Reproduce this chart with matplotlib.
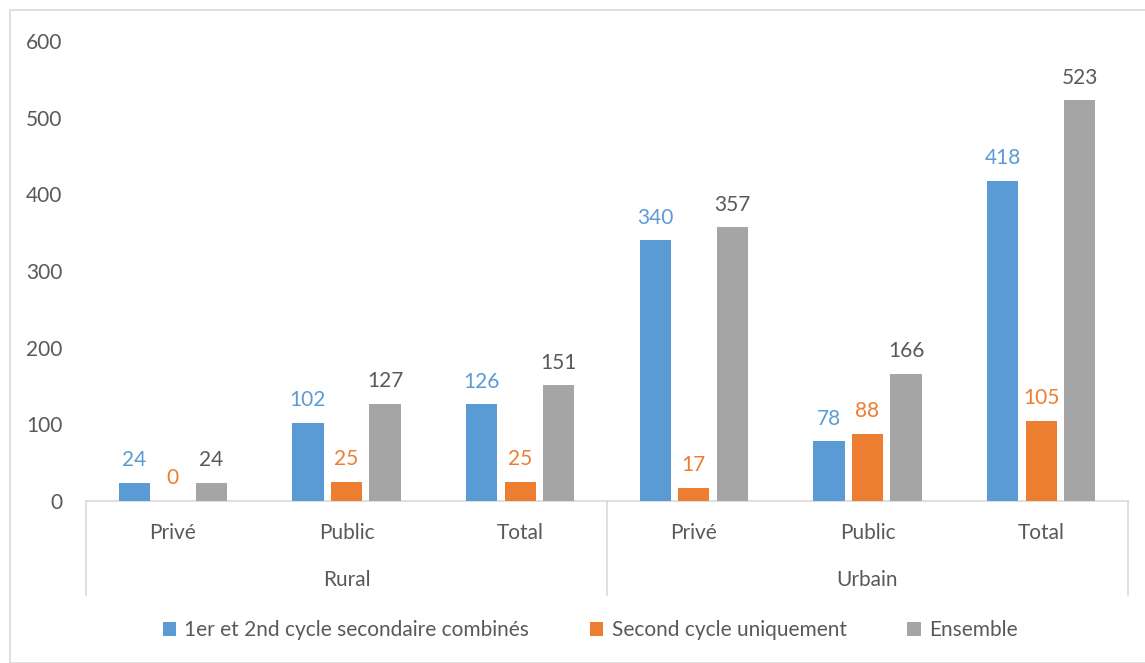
import matplotlib
matplotlib.use("Agg")
import matplotlib.pyplot as plt
from matplotlib.patches import Rectangle
from matplotlib.lines import Line2D
import numpy as np

plt.rcParams['font.family'] = ['Lato', 'DejaVu Sans']

groups = ["Rural", "Urbain"]
categories = ["Privé", "Public", "Total", "Privé", "Public", "Total"]
series_names = ["1er et 2nd cycle secondaire combinés", "Second cycle uniquement", "Ensemble"]
combined = [24, 102, 126, 340, 78, 418]
second = [0, 25, 25, 17, 88, 105]
ensemble = [24, 127, 151, 357, 166, 523]
yticks = [0, 100, 200, 300, 400, 500, 600]

colors = ["#5B9BD5", "#ED7D31", "#A5A5A5"]
label_colors = ["#5B9BD5", "#ED7D31", "#595959"]
text_color = "#595959"
fs = 15

W, H = 1145, 663
fig = plt.figure(figsize=(W / 100, H / 100), dpi=100)
fig.patches.append(Rectangle((10 / W, 0), 1.0, 1 - 10 / H, transform=fig.transFigure,
                             fill=False, edgecolor="#D9D9D9", linewidth=1.2))

left, right, bottom, top = 86 / W, 1128 / W, 1 - 501 / H, 1 - 41 / H
ax = fig.add_axes([left, bottom, right - left, top - bottom])

n = len(categories)
x = np.arange(n)
bw = 0.18
offs = [-0.222, 0.0, 0.222]
for i, vals in enumerate([combined, second, ensemble]):
    ax.bar(x + offs[i], vals, width=bw, color=colors[i], label=series_names[i], zorder=3)
    for xi, v in zip(x + offs[i], vals):
        ax.annotate(str(v), (xi, v), xytext=(0, 9), textcoords="offset points",
                    ha="center", va="bottom", fontsize=fs, color=label_colors[i])

ax.set_xlim(-0.5, n - 0.5)
ax.set_ylim(0, 600)
ax.set_yticks(yticks)
ax.set_yticklabels([str(t) for t in yticks])
ax.tick_params(axis="y", length=0, labelsize=fs, labelcolor=text_color, pad=17)
ax.set_xticks([])
for s in ["top", "right", "left"]:
    ax.spines[s].set_visible(False)
ax.spines["bottom"].set_color("#D9D9D9")
ax.spines["bottom"].set_linewidth(1.2)

# category labels
trans = ax.get_xaxis_transform()
for xi, c in zip(x, categories):
    ax.text(xi, -32 / 460, c, transform=trans, ha="center", va="center",
            fontsize=fs, color=text_color)
for gi, g in enumerate(groups):
    ax.text(gi * 3 + 1, -79 / 460, g, transform=trans, ha="center", va="center",
            fontsize=fs, color=text_color)
for xv in [-0.5, 2.5, 5.5]:
    ax.add_line(Line2D([xv, xv], [0, -94 / 460], transform=trans, color="#D9D9D9",
                       linewidth=1.2, clip_on=False))

leg = fig.legend(loc="center", bbox_to_anchor=(590 / W, 1 - 630 / H), ncol=3, frameon=False,
                 fontsize=fs, handlelength=0.65, handleheight=0.65, handletextpad=0.4,
                 columnspacing=2.9)
for t in leg.get_texts():
    t.set_color(text_color)

fig.savefig("out.png", dpi=100)
